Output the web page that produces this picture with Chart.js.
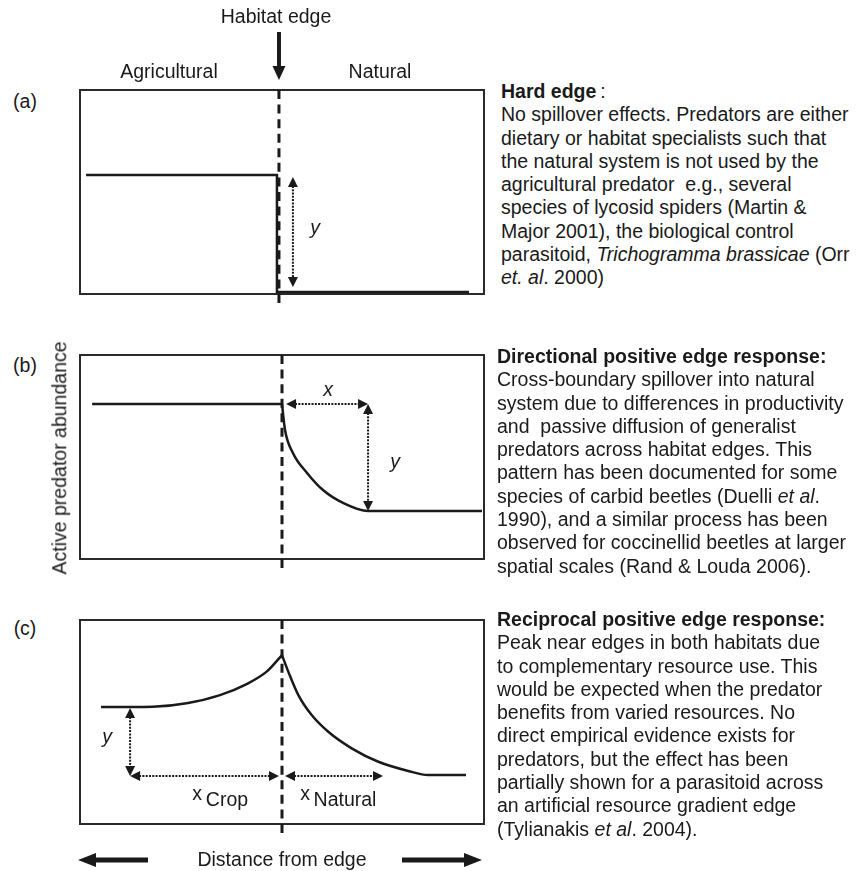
<!DOCTYPE html>
<html>
<head>
<meta charset="utf-8">
<script src="https://cdn.jsdelivr.net/npm/chart.js@4.4.1/dist/chart.umd.min.js"></script>
<style>
  body { margin: 0; background: #fff; width: 861px; height: 871px; position: relative; overflow: hidden;
         font-family: "Liberation Sans", Arial, Helvetica, sans-serif; color: #1a1a1a; }
  canvas { position: absolute; }
  .lbl { position: absolute; font-size: 19.5px; white-space: nowrap; transform: translate(-50%, -50%); line-height: 1; }
  .txt { position: absolute; font-size: 19.5px; line-height: 23.3px; white-space: nowrap; }
  .it { font-style: italic; }
</style>
</head>
<body>

<canvas id="panelA" width="440" height="300" style="left:60px; top:20px;"></canvas>
<canvas id="panelB" width="440" height="245" style="left:60px; top:335px;"></canvas>
<canvas id="panelC" width="440" height="271" style="left:60px; top:600px;"></canvas>

<div class="lbl" style="left:276px; top:17px;">Habitat edge</div>
<div class="lbl" style="left:169px; top:72px;">Agricultural</div>
<div class="lbl" style="left:380px; top:72px;">Natural</div>
<div class="lbl" style="left:25px; top:102px;">(a)</div>
<div class="lbl" style="left:25px; top:366px;">(b)</div>
<div class="lbl" style="left:25px; top:629px;">(c)</div>
<div class="lbl" style="left:60px; top:458px; transform: translate(-50%, -50%) rotate(-90deg);">Active predator abundance</div>
<div class="lbl" style="left:282px; top:860px;">Distance from edge</div>

<!-- arrow labels -->
<div class="lbl it" style="left:315px; top:228px;">y</div>
<div class="lbl it" style="left:328px; top:390px;">x</div>
<div class="lbl it" style="left:395px; top:462px;">y</div>
<div class="lbl it" style="left:107px; top:737px;">y</div>
<div class="lbl" style="left:197px; top:794px;">x</div>
<div class="lbl" style="left:227px; top:800px;">Crop</div>
<div class="lbl" style="left:305px; top:794px;">x</div>
<div class="lbl" style="left:345px; top:800px;">Natural</div>

<div class="txt" style="left:501px; top:80px;">
<b>Hard edge</b><span style="margin-left:4px">:</span><br>
No spillover effects. Predators are either<br>
dietary or habitat specialists such that<br>
the natural system is not used by the<br>
agricultural predator&nbsp; e.g., several<br>
species of lycosid spiders (Martin &amp;<br>
Major 2001), the biological control<br>
parasitoid, <i>Trichogramma brassicae</i> (Orr<br>
<i>et. al</i>. 2000)
</div>

<div class="txt" style="left:497px; top:345px;">
<b>Directional positive edge response:</b><br>
Cross-boundary spillover into natural<br>
system due to differences in productivity<br>
and&nbsp; passive diffusion of generalist<br>
predators across habitat edges. This<br>
pattern has been documented for some<br>
species of carbid beetles (Duelli <i>et al</i>.<br>
1990), and a similar process has been<br>
observed for coccinellid beetles at larger<br>
spatial scales (Rand &amp; Louda 2006).
</div>

<div class="txt" style="left:497px; top:608px;">
<b>Reciprocal positive edge response:</b><br>
Peak near edges in both habitats due<br>
to complementary resource use. This<br>
would be expected when the predator<br>
benefits from varied resources. No<br>
direct empirical evidence exists for<br>
predators, but the effect has been<br>
partially shown for a parasitoid across<br>
an artificial resource gradient edge<br>
(Tylianakis <i>et al</i>. 2004).
</div>

<script>
// x = distance from edge (edge at 0, crop < 0, natural > 0), y = relative abundance

// (a) hard edge
const hardX = [-0.97, -0.025, -0.025, 0.926];
const hardY = [0.583, 0.583, 0.01, 0.01];

// (b) directional positive edge response
const dirCropX = [-0.94, 0];
const dirCropY = [0.76, 0.76];
const dirNatX = [0, 0.015, 0.054, 0.124, 0.203, 0.302, 0.426, 0.99];
const dirNatY = [0.76, 0.632, 0.52, 0.422, 0.338, 0.275, 0.235, 0.235];

// (c) reciprocal positive edge response
const recCropX = [-0.896, -0.752, -0.639, -0.472, -0.307, -0.175, -0.076, 0];
const recCropY = [0.574, 0.574, 0.575, 0.592, 0.632, 0.686, 0.747, 0.828];
const recNatX = [0, 0.031, 0.081, 0.147, 0.229, 0.345, 0.477, 0.625, 0.724, 0.911];
const recNatY = [0.828, 0.747, 0.632, 0.534, 0.452, 0.371, 0.305, 0.26, 0.24, 0.24];

const ink = '#1a1a1a';

function toPoints(xs, ys) {
  return xs.map((x, i) => ({ x: x, y: ys[i] }));
}

function head(ctx, x, y, ang, len, half) {
  ctx.beginPath();
  ctx.moveTo(x, y);
  ctx.lineTo(x - len * Math.cos(ang) + half * Math.sin(ang), y - len * Math.sin(ang) - half * Math.cos(ang));
  ctx.lineTo(x - len * Math.cos(ang) - half * Math.sin(ang), y - len * Math.sin(ang) + half * Math.cos(ang));
  ctx.closePath();
  ctx.fill();
}

// box, dashed habitat edge, dotted measurement arrows
const edgeMarks = {
  id: 'edgeMarks',
  beforeDatasetsDraw(chart) {
    const a = chart.chartArea, ctx = chart.ctx;
    ctx.save();
    ctx.strokeStyle = '#2a2a2a';
    ctx.lineWidth = 2;
    ctx.strokeRect(a.left, a.top, a.right - a.left, a.bottom - a.top);
    ctx.restore();
  },
  afterDatasetsDraw(chart, args, opts) {
    const a = chart.chartArea, ctx = chart.ctx;
    const sx = chart.scales.x, sy = chart.scales.y;
    const ex = sx.getPixelForValue(opts.edge);
    ctx.save();
    ctx.strokeStyle = ink;
    ctx.fillStyle = ink;

    // habitat edge, dashes at both ends
    const len = a.bottom + 9 - a.top;
    const n = Math.round((len + 5.5) / 14.5);
    ctx.lineWidth = 3;
    ctx.setLineDash([9, (len - 9 * n) / (n - 1)]);
    ctx.beginPath();
    ctx.moveTo(ex, a.top);
    ctx.lineTo(ex, a.top + len);
    ctx.stroke();

    // measurement arrows
    ctx.lineWidth = 2;
    ctx.setLineDash([2, 1.3]);
    (opts.arrows || []).forEach(r => {
      const x1 = sx.getPixelForValue(r[0]), y1 = sy.getPixelForValue(r[1]);
      const x2 = sx.getPixelForValue(r[2]), y2 = sy.getPixelForValue(r[3]);
      const ang = Math.atan2(y2 - y1, x2 - x1);
      const ins = 9;
      ctx.beginPath();
      ctx.moveTo(x1 + ins * Math.cos(ang), y1 + ins * Math.sin(ang));
      ctx.lineTo(x2 - ins * Math.cos(ang), y2 - ins * Math.sin(ang));
      ctx.stroke();
      head(ctx, x2, y2, ang, 10, 5);
      head(ctx, x1, y1, ang + Math.PI, 10, 5);
    });
    ctx.setLineDash([]);

    // "Habitat edge" pointer
    if (opts.top) {
      ctx.lineWidth = 4;
      ctx.beginPath();
      ctx.moveTo(ex, a.top - 58);
      ctx.lineTo(ex, a.top - 22);
      ctx.stroke();
      head(ctx, ex, a.top - 10, Math.PI / 2, 14, 6.5);
    }
    // "Distance from edge" arrows
    if (opts.bottom) {
      const y = a.bottom + 36;
      ctx.lineWidth = 5;
      ctx.beginPath();
      ctx.moveTo(a.left + 14, y);
      ctx.lineTo(a.left + 68, y);
      ctx.moveTo(a.right - 82, y);
      ctx.lineTo(a.right - 14, y);
      ctx.stroke();
      head(ctx, a.left - 2, y, Math.PI, 18, 7);
      head(ctx, a.right - 2, y, 0, 18, 7);
    }
    ctx.restore();
  }
};

function line(xs, ys, smooth) {
  return {
    data: toPoints(xs, ys),
    showLine: true,
    borderColor: ink,
    borderWidth: 2.5,
    pointRadius: 0,
    tension: 0,
    cubicInterpolationMode: smooth ? 'monotone' : 'default',
    clip: false
  };
}

function makePanel(id, datasets, marks, pad) {
  new Chart(document.getElementById(id), {
    type: 'scatter',
    data: { datasets: datasets },
    options: {
      responsive: false,
      animation: false,
      devicePixelRatio: 1,
      layout: { padding: pad },
      plugins: { legend: { display: false }, tooltip: { enabled: false }, edgeMarks: marks },
      scales: {
        x: { type: 'linear', min: -1, max: 1, display: false },
        y: { type: 'linear', min: 0, max: 1, display: false }
      }
    },
    plugins: [edgeMarks]
  });
}

makePanel('panelA',
  [line(hardX, hardY, false)],
  { edge: -0.015, top: true, arrows: [[0.054, 0.574, 0.054, 0.034]] },
  { left: 20, top: 70, right: 16, bottom: 26 });

makePanel('panelB',
  [line(dirCropX, dirCropY, false), line(dirNatX, dirNatY, true)],
  { edge: 0, arrows: [[0.02, 0.76, 0.426, 0.76], [0.426, 0.76, 0.426, 0.235]] },
  { left: 20, top: 20, right: 16, bottom: 21 });

makePanel('panelC',
  [line(recCropX, recCropY, true), line(recNatX, recNatY, true)],
  { edge: 0, bottom: true, arrows: [[-0.752, 0.569, -0.752, 0.235], [-0.752, 0.235, -0.015, 0.235], [0.015, 0.235, 0.5, 0.235]] },
  { left: 20, top: 20, right: 16, bottom: 47 });
</script>
</body>
</html>
